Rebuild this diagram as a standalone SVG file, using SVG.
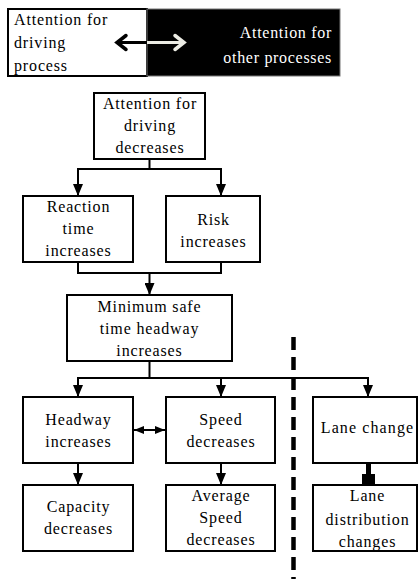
<svg xmlns="http://www.w3.org/2000/svg" width="418" height="579" viewBox="0 0 418 579">
<style>
.box{fill:#fff;stroke:#000;stroke-width:2}
text{font-family:'Liberation Serif','DejaVu Serif',serif;font-size:16px}
.t{letter-spacing:0.85px;text-anchor:middle;fill:#000}
.tl{letter-spacing:0.85px;fill:#000}
.tw{letter-spacing:0.7px;text-anchor:end;fill:#fff}
.c{fill:none;stroke:#000;stroke-width:2}
</style>
<defs>
<marker id="ah" viewBox="0 0 12 10" refX="12" refY="5" markerWidth="12" markerHeight="10" markerUnits="userSpaceOnUse" orient="auto">
<path d="M0,0 L12,5 L0,10 Z" fill="#000"/>
</marker>
<marker id="ah2" viewBox="0 0 10 8" refX="10" refY="4" markerWidth="10" markerHeight="8" markerUnits="userSpaceOnUse" orient="auto-start-reverse">
<path d="M0,0 L10,4 L0,8 Z" fill="#000"/>
</marker>
</defs>

<g id="banner">
<rect x="8" y="9" width="139" height="67" fill="#fff" stroke="#000" stroke-width="2"/>
<rect x="147" y="9" width="193" height="67" fill="#000" stroke="#777" stroke-width="1"/>
<text class="tl" x="14" y="25">Attention for</text>
<text class="tl" x="14" y="48">driving</text>
<text class="tl" x="14" y="71">process</text>
<text class="tw" x="332" y="38">Attention for</text>
<text class="tw" x="332" y="63">other processes</text>
<line x1="116" y1="42.5" x2="147" y2="42.5" stroke="#000" stroke-width="3"/>
<polyline points="126,35.5 117,42.5 126,49.5" fill="none" stroke="#000" stroke-width="3.5" stroke-linecap="round"/>
<line x1="147" y1="42.5" x2="184" y2="42.5" stroke="#ecece4" stroke-width="3"/>
<polyline points="175,35.5 184,42.5 175,49.5" fill="none" stroke="#ecece4" stroke-width="3.5" stroke-linecap="round"/>
</g>

<g id="n-attention">
<rect class="box" x="94" y="93" width="111" height="66"/>
<text class="t" x="150" y="109">Attention for</text>
<text class="t" x="150" y="131">driving</text>
<text class="t" x="150" y="153">decreases</text>
</g>
<g id="n-reaction">
<rect class="box" x="23" y="196" width="110" height="66"/>
<text class="t" x="78.5" y="212">Reaction</text>
<text class="t" x="78.5" y="234">time</text>
<text class="t" x="78.5" y="256">increases</text>
</g>
<g id="n-risk">
<rect class="box" x="166" y="196" width="94" height="66"/>
<text class="t" x="213.5" y="225">Risk</text>
<text class="t" x="213.5" y="247">increases</text>
</g>
<g id="n-minimum">
<rect class="box" x="67" y="295" width="165" height="66"/>
<text class="t" x="149.5" y="312">Minimum safe</text>
<text class="t" x="149.5" y="334">time headway</text>
<text class="t" x="149.5" y="356">increases</text>
</g>
<g id="n-headway">
<rect class="box" x="23" y="397" width="110" height="66"/>
<text class="t" x="78.5" y="425">Headway</text>
<text class="t" x="78.5" y="447">increases</text>
</g>
<g id="n-speed">
<rect class="box" x="166" y="397" width="109" height="66"/>
<text class="t" x="221" y="425">Speed</text>
<text class="t" x="221" y="447">decreases</text>
</g>
<g id="n-lanechange">
<rect class="box" x="313" y="397" width="104" height="66"/>
<text class="t" x="367.5" y="433" style="letter-spacing:1.1px">Lane change</text>
</g>
<g id="n-capacity">
<rect class="box" x="23" y="485" width="110" height="66"/>
<text class="t" x="78.5" y="512">Capacity</text>
<text class="t" x="78.5" y="534">decreases</text>
</g>
<g id="n-avgspeed">
<rect class="box" x="166" y="485" width="109" height="66"/>
<text class="t" x="221" y="501">Average</text>
<text class="t" x="221" y="523">Speed</text>
<text class="t" x="221" y="545">decreases</text>
</g>
<g id="n-lanedist">
<rect class="box" x="313" y="485" width="104" height="66"/>
<text class="t" x="367.5" y="501">Lane</text>
<text class="t" x="367.5" y="525">distribution</text>
<text class="t" x="367.5" y="547">changes</text>
</g>

<g id="connectors">
<polyline class="c" points="149.5,159 149.5,169"/>
<polyline class="c" points="78,169 221,169"/>
<line class="c" x1="78" y1="168" x2="78" y2="196" marker-end="url(#ah)"/>
<line class="c" x1="221" y1="168" x2="221" y2="196" marker-end="url(#ah)"/>
<polyline class="c" points="78,262 78,273 221,273 221,262"/>
<line class="c" x1="149.5" y1="273" x2="149.5" y2="295" marker-end="url(#ah)"/>
<polyline class="c" points="149.5,361 149.5,378"/>
<polyline class="c" points="78,378 368,378"/>
<line class="c" x1="78" y1="377" x2="78" y2="397" marker-end="url(#ah)"/>
<line class="c" x1="221" y1="377" x2="221" y2="397" marker-end="url(#ah)"/>
<line class="c" x1="368" y1="377" x2="368" y2="397" marker-end="url(#ah)"/>
<line class="c" x1="78" y1="463" x2="78" y2="485" marker-end="url(#ah)"/>
<line class="c" x1="221" y1="463" x2="221" y2="485" marker-end="url(#ah)"/>
<line class="c" x1="134" y1="430" x2="165" y2="430" marker-start="url(#ah2)" marker-end="url(#ah2)"/>
<line x1="368.5" y1="463" x2="368.5" y2="475" stroke="#000" stroke-width="5"/>
<rect x="362" y="474" width="13" height="12" fill="#000"/>
<line x1="293.5" y1="337" x2="293.5" y2="579" stroke="#000" stroke-width="4.5" stroke-dasharray="13 7"/>
</g>
</svg>
